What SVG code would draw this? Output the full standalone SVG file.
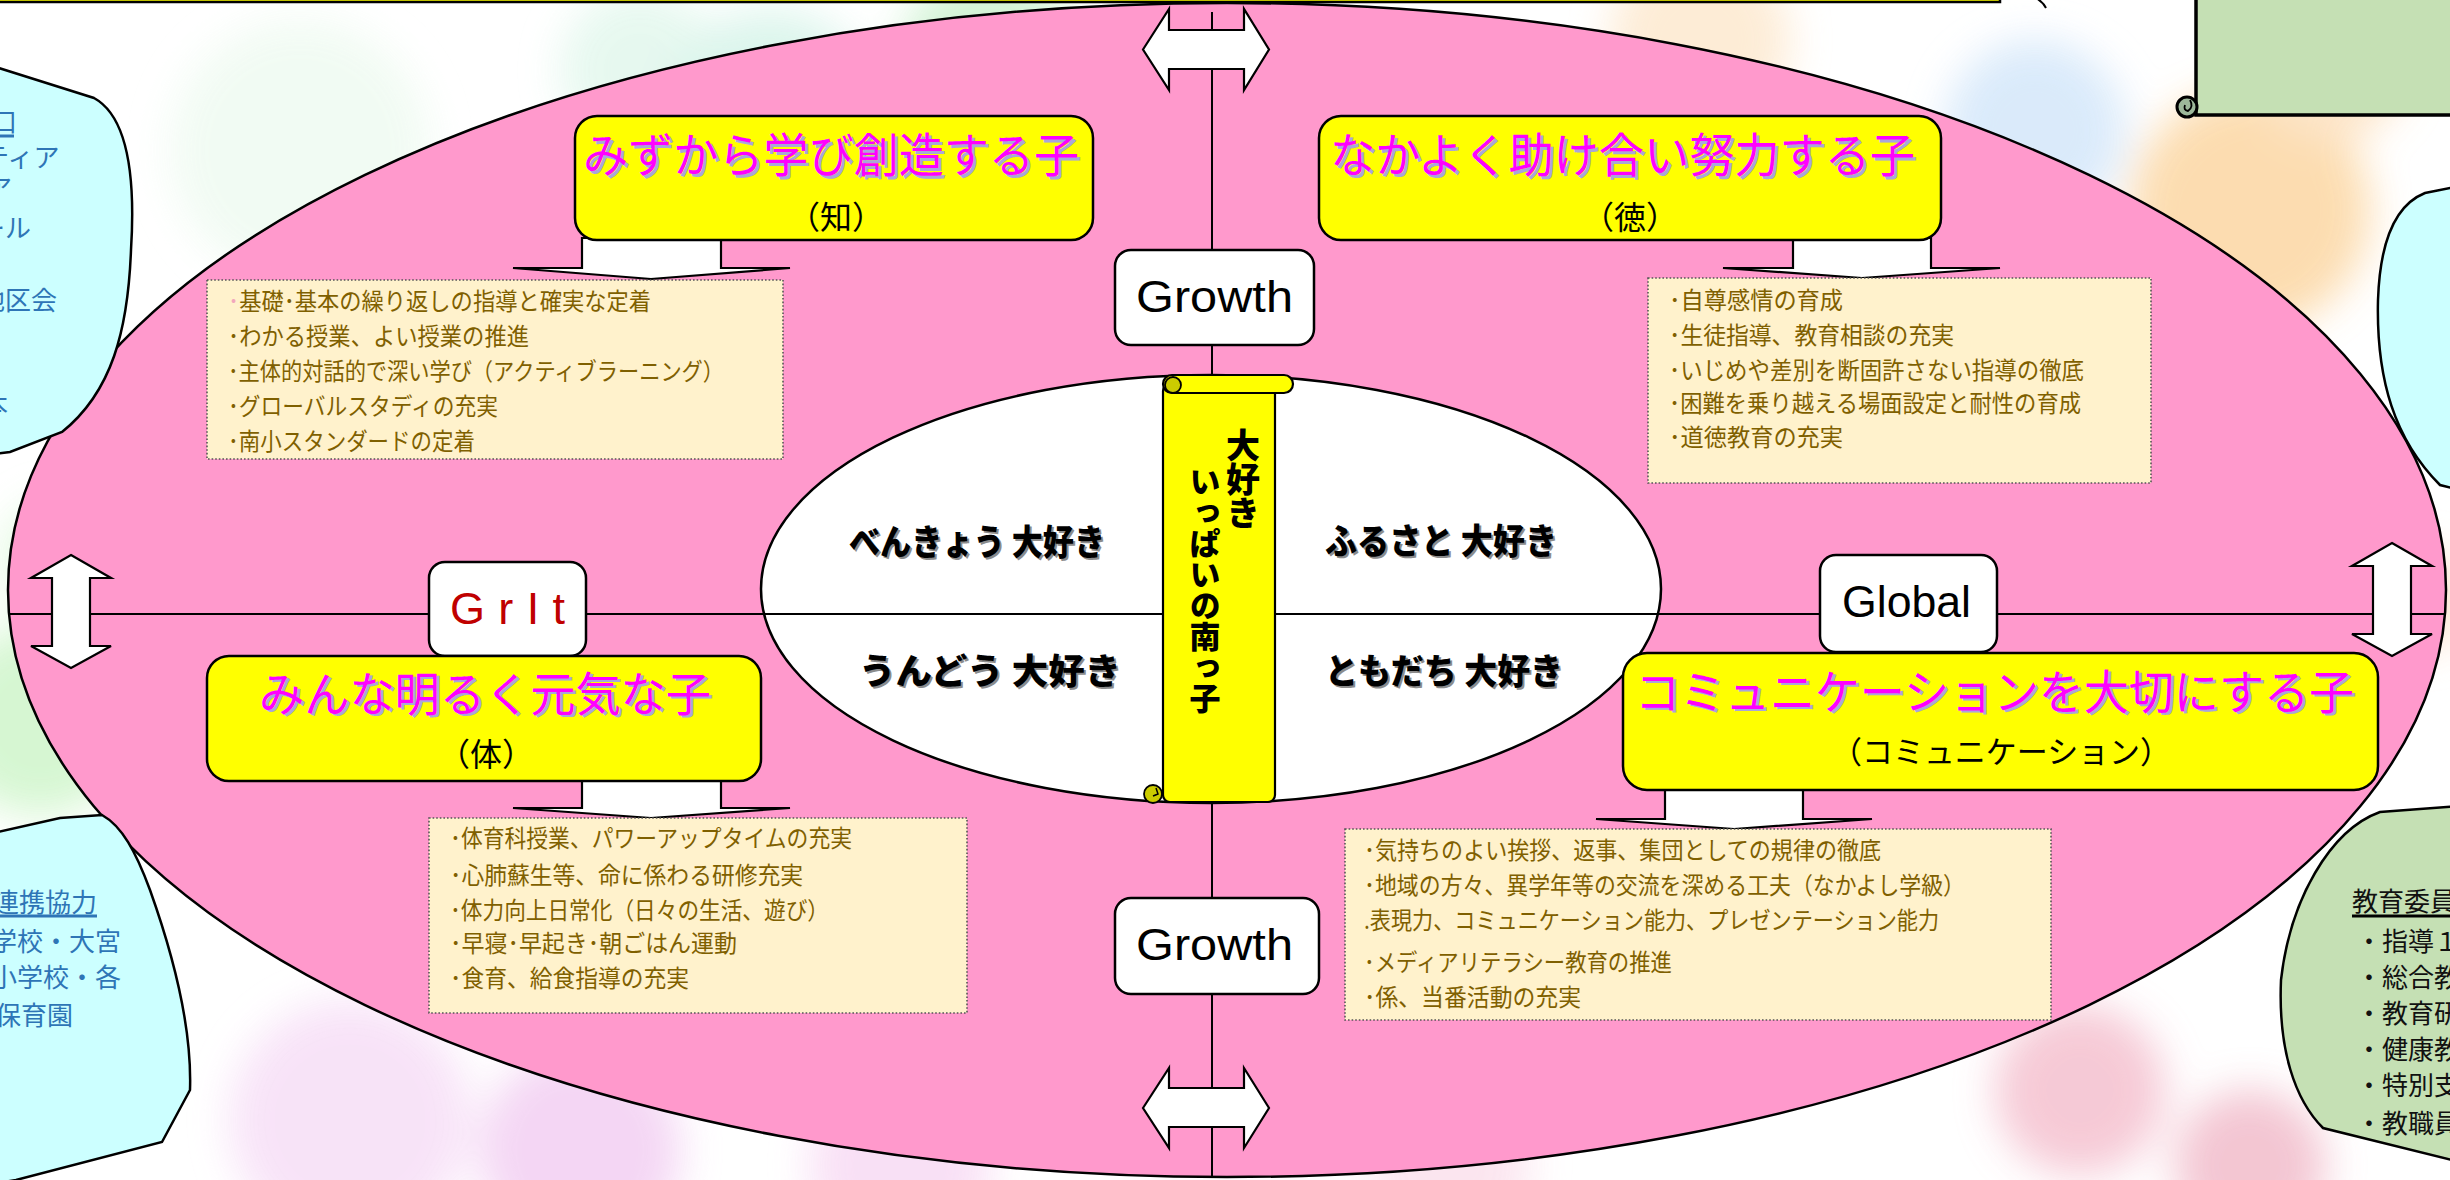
<svg xmlns="http://www.w3.org/2000/svg" width="2450" height="1180" viewBox="0 0 2450 1180">
<defs>
<filter id="blur" x="-60%" y="-60%" width="220%" height="220%"><feGaussianBlur stdDeviation="20"/></filter>
<style>
.jp{font-family:"Noto Sans CJK JP","Noto Sans CJK SC",sans-serif}
.lat{font-family:"Liberation Sans",Arial,sans-serif}
.ybox{fill:#FFFF00;stroke:#000;stroke-width:2.5}
.wbox{fill:#FFFFFF;stroke:#000;stroke-width:2.5}
.beige{fill:#FFF2CC;stroke:#555;stroke-width:1.6;stroke-dasharray:1.6 2}
.btxt{font-size:24px;fill:#7F6000}
.title{font-size:47px;fill:#FF00FF}
.tshadow{font-size:47px;fill:#A9A6DA}
.sub{font-size:32px;fill:#000}
.warrow{fill:#FFFFFF;stroke:#000;stroke-width:2.2;stroke-linejoin:miter}
.axis{stroke:#000;stroke-width:2;fill:none}
.blue{font-size:26px;fill:#2E75B6}
.blk{font-size:26px;fill:#111}
.big{font-size:35px;font-weight:900;fill:#000}
.bigsh{font-size:35px;font-weight:900;fill:#8C8C8C}
.lab{font-size:45px;fill:#000}
.vert{writing-mode:vertical-rl;font-weight:900;fill:#000}
</style>
</defs>

<g id="background">
<rect x="0" y="0" width="2450" height="1180" fill="#FFFFFF"/>
<g filter="url(#blur)" opacity="0.9">
<circle cx="300" cy="150" r="130" fill="#F0FBF2"/>
<circle cx="640" cy="70" r="80" fill="#E4F8EE"/>
<circle cx="770" cy="120" r="110" fill="#D8F4EA"/>
<circle cx="990" cy="60" r="90" fill="#CFF2D2"/>
<circle cx="1700" cy="40" r="90" fill="#FDEAD2"/>
<circle cx="2035" cy="130" r="90" fill="#D6E8FA"/>
<circle cx="2130" cy="320" r="80" fill="#DDEBF8"/>
<circle cx="2250" cy="210" r="120" fill="#FCD9A8"/>
<circle cx="2330" cy="60" r="80" fill="#FDE3C4"/>
<circle cx="40" cy="720" r="95" fill="#D2F6CE"/>
<circle cx="60" cy="560" r="60" fill="#E2FAE0"/>
<circle cx="350" cy="1120" r="120" fill="#F7E0F7"/>
<circle cx="580" cy="1150" r="100" fill="#F3D2F3"/>
<circle cx="900" cy="1165" r="90" fill="#F8DDF4"/>
<circle cx="1450" cy="1165" r="80" fill="#FBE3EE"/>
<circle cx="2080" cy="1090" r="85" fill="#F5C4D2"/>
<circle cx="2250" cy="1165" r="75" fill="#F2C0CE"/>
<circle cx="2420" cy="600" r="50" fill="#FCE4D0"/>
</g>
</g>

<g id="top-bar">
<rect x="-10" y="-100" width="2010" height="102" fill="#FFFF00" stroke="#000" stroke-width="2.5"/>
<path d="M 2036,-2 Q 2043,2 2046,8" fill="none" stroke="#000" stroke-width="2"/>
</g>

<g id="main-ellipse">
<ellipse cx="1227" cy="590" rx="1219" ry="587" fill="#FF99CC" stroke="#000" stroke-width="2.5"/>
<ellipse cx="1211" cy="589" rx="450" ry="214" fill="#FFFFFF" stroke="#000" stroke-width="2.5"/>
</g>

<g id="blob-top-left">
<path d="M -20,62 L 94,98 C 125,115 136,170 131,250 C 128,330 112,392 62,432 L 10,452 L -20,456 Z" fill="#CCFFFF" stroke="#000" stroke-width="2.5"/>
<text class="jp blue" x="-9" y="132" font-size="24">口</text>
<line x1="0" y1="136" x2="14" y2="136" stroke="#2E75B6" stroke-width="3"/>
<text class="jp blue" x="-17" y="167" font-size="24">ティア</text>
<text class="jp blue" x="-14" y="198" font-size="20">ア</text>
<text class="jp blue" x="-21" y="238">ール</text>
<text class="jp blue" x="-21" y="310">地区会</text>
<text class="jp blue" x="-18" y="415">本</text>
</g>

<g id="blob-bottom-left">
<path d="M -20,836 L 60,818 L 102,815 C 122,826 136,852 150,890 C 175,960 192,1030 190,1090 L 162,1142 L 16,1180 L -20,1186 Z" fill="#CCFFFF" stroke="#000" stroke-width="2.5"/>
<text class="jp blue" x="-7" y="912">連携協力</text>
<line x1="0" y1="916" x2="97" y2="916" stroke="#2E75B6" stroke-width="3"/>
<text class="jp blue" x="-9" y="951">学校・大宮</text>
<text class="jp blue" x="-9" y="987">小学校・各</text>
<text class="jp blue" x="-5" y="1025">保育園</text>
</g>

<g id="blob-top-right">
<path d="M 2460,186 L 2425,193 C 2395,205 2380,240 2378,300 C 2376,380 2395,440 2440,485 L 2460,490 Z" fill="#CCFFFF" stroke="#000" stroke-width="2.5"/>
</g>

<g id="blob-bottom-right">
<path d="M 2460,806 L 2380,812 C 2330,830 2290,900 2281,980 C 2278,1050 2295,1100 2323,1128 L 2460,1162 Z" fill="#C5E0B4" stroke="#000" stroke-width="2.5"/>
<text class="jp blk" x="2352" y="911">教育委員</text>
<line x1="2352" y1="916" x2="2450" y2="916" stroke="#000" stroke-width="3"/>
<text class="jp blk" x="2356" y="951">・指導１</text>
<text class="jp blk" x="2356" y="987">・総合教</text>
<text class="jp blk" x="2356" y="1023">・教育研</text>
<text class="jp blk" x="2356" y="1059">・健康教</text>
<text class="jp blk" x="2356" y="1095">・特別支</text>
<text class="jp blk" x="2356" y="1133">・教職員</text>
</g>

<g id="scroll-top-right">
<rect x="2196" y="-10" width="270" height="125" fill="#C5E0B4" stroke="#000" stroke-width="3.5"/>
<circle cx="2187" cy="107" r="10" fill="#9DB89A" stroke="#000" stroke-width="3"/>
<path d="M 2190,100 Q 2194,107 2188,111 Q 2183,110 2185,105" fill="none" stroke="#000" stroke-width="1.8"/>
</g>

<g id="connectors">
<line class="axis" x1="1212" y1="12" x2="1212" y2="1177"/>
<line class="axis" x1="8" y1="614" x2="2446" y2="614"/>
<path class="warrow" d="M 1143,49.5 L 1169,9 L 1169,30 L 1244,30 L 1244,9 L 1269,49.5 L 1244,90 L 1244,69 L 1169,69 L 1169,90 Z"/>
<path class="warrow" d="M 1143,1108 L 1169,1068 L 1169,1088 L 1244,1088 L 1244,1068 L 1269,1108 L 1244,1148 L 1244,1127 L 1169,1127 L 1169,1148 Z"/>
<path class="warrow" d="M 71,555 L 111,578 L 90,578 L 90,646 L 111,646 L 71,668 L 31,646 L 52,646 L 52,578 L 31,578 Z"/>
<path class="warrow" d="M 2392,543 L 2432,566 L 2411,566 L 2411,634 L 2432,634 L 2392,656 L 2352,634 L 2373,634 L 2373,566 L 2352,566 Z"/>
<path class="warrow" d="M 582,238 L 721,238 L 721,268 L 790,268 L 651,279 L 513,268 L 582,268 Z"/>
<path class="warrow" d="M 1793,238 L 1931,238 L 1931,268 L 2000,268 L 1862,278 L 1723,268 L 1793,268 Z"/>
<path class="warrow" d="M 582,779 L 721,779 L 721,808 L 790,808 L 651,818 L 513,808 L 582,808 Z"/>
<path class="warrow" d="M 1665,788 L 1803,788 L 1803,819 L 1872,819 L 1734,829 L 1596,819 L 1665,819 Z"/>
</g>

<g id="center-scroll">
<rect x="1163" y="384" width="112" height="418" rx="7" fill="#FFFF00" stroke="#000" stroke-width="2.2"/>
<rect x="1163" y="375" width="130" height="18" rx="9" fill="#FFFF00" stroke="#000" stroke-width="2.2"/>
<circle cx="1173" cy="385" r="8" fill="#CCCC00" stroke="#000" stroke-width="1.8"/>
<circle cx="1153" cy="794" r="9" fill="#CCCC00" stroke="#000" stroke-width="1.8"/>
<path d="M 1156,788 L 1158,794 L 1153,796" fill="none" stroke="#000" stroke-width="1.5"/>
<text class="jp vert" x="1243" y="428" font-size="34">大好き</text>
<text class="jp vert" x="1205" y="466" font-size="31">いっぱいの南っ子</text>
</g>

<g id="inner-labels">
<text class="jp bigsh" x="851" y="557" textLength="256" lengthAdjust="spacingAndGlyphs">べんきょう 大好き</text>
<text class="jp big" x="849" y="555" textLength="256" lengthAdjust="spacingAndGlyphs">べんきょう 大好き</text>
<text class="jp bigsh" x="1327" y="556" textLength="232" lengthAdjust="spacingAndGlyphs">ふるさと 大好き</text>
<text class="jp big" x="1325" y="554" textLength="232" lengthAdjust="spacingAndGlyphs">ふるさと 大好き</text>
<text class="jp bigsh" x="861" y="686" textLength="262" lengthAdjust="spacingAndGlyphs">うんどう 大好き</text>
<text class="jp big" x="859" y="684" textLength="262" lengthAdjust="spacingAndGlyphs">うんどう 大好き</text>
<text class="jp bigsh" x="1327" y="686" textLength="238" lengthAdjust="spacingAndGlyphs">ともだち 大好き</text>
<text class="jp big" x="1325" y="684" textLength="238" lengthAdjust="spacingAndGlyphs">ともだち 大好き</text>
</g>

<g id="growth-top">
<rect class="wbox" x="1115" y="250" width="199" height="95" rx="16"/>
<text class="lat lab" x="1136" y="312" textLength="157" lengthAdjust="spacingAndGlyphs">Growth</text>
</g>
<g id="growth-bottom">
<rect class="wbox" x="1115" y="898" width="204" height="96" rx="16"/>
<text class="lat lab" x="1136" y="960" textLength="157" lengthAdjust="spacingAndGlyphs">Growth</text>
</g>
<g id="grit">
<rect class="wbox" x="429" y="562" width="157" height="94" rx="16"/>
<text class="lat lab" x="450" y="624" style="fill:#C00000" textLength="115" lengthAdjust="spacing">GrIt</text>
</g>
<g id="global">
<rect class="wbox" x="1820" y="555" width="177" height="97" rx="16"/>
<text class="lat lab" x="1842" y="617" textLength="129" lengthAdjust="spacingAndGlyphs">Global</text>
</g>

<g id="node-chi">
<rect class="ybox" x="575" y="116" width="518" height="124" rx="22"/>
<text class="jp tshadow" x="586" y="175" textLength="496" lengthAdjust="spacingAndGlyphs">みずから学び創造する子</text>
<text class="jp title" x="583" y="172" textLength="496" lengthAdjust="spacingAndGlyphs">みずから学び創造する子</text>
<text class="jp sub" x="836" y="229" text-anchor="middle">（知）</text>
</g>
<g id="list-chi">
<rect class="beige" x="207" y="280" width="576" height="179"/>
<text class="jp btxt" x="228" y="310" textLength="423" lengthAdjust="spacingAndGlyphs"><tspan fill="#F2A7BC">･</tspan>基礎･基本の繰り返しの指導と確実な定着</text>
<text class="jp btxt" x="228" y="345" textLength="301" lengthAdjust="spacingAndGlyphs">･わかる授業、よい授業の推進</text>
<text class="jp btxt" x="228" y="380" textLength="496" lengthAdjust="spacingAndGlyphs">･主体的対話的で深い学び（アクティブラーニング）</text>
<text class="jp btxt" x="228" y="415" textLength="270" lengthAdjust="spacingAndGlyphs">･グローバルスタディの充実</text>
<text class="jp btxt" x="228" y="450" textLength="247" lengthAdjust="spacingAndGlyphs">･南小スタンダードの定着</text>
</g>

<g id="node-toku">
<rect class="ybox" x="1319" y="116" width="622" height="124" rx="22"/>
<text class="jp tshadow" x="1333" y="175" textLength="585" lengthAdjust="spacingAndGlyphs">なかよく助け合い努力する子</text>
<text class="jp title" x="1330" y="172" textLength="585" lengthAdjust="spacingAndGlyphs">なかよく助け合い努力する子</text>
<text class="jp sub" x="1630" y="229" text-anchor="middle">（徳）</text>
</g>
<g id="list-toku">
<rect class="beige" x="1648" y="278" width="503" height="205"/>
<text class="jp btxt" x="1669" y="309" textLength="174" lengthAdjust="spacingAndGlyphs">･自尊感情の育成</text>
<text class="jp btxt" x="1669" y="344" textLength="285" lengthAdjust="spacingAndGlyphs">･生徒指導、教育相談の充実</text>
<text class="jp btxt" x="1669" y="379" textLength="415" lengthAdjust="spacingAndGlyphs">･いじめや差別を断固許さない指導の徹底</text>
<text class="jp btxt" x="1669" y="412" textLength="412" lengthAdjust="spacingAndGlyphs">･困難を乗り越える場面設定と耐性の育成</text>
<text class="jp btxt" x="1669" y="446" textLength="174" lengthAdjust="spacingAndGlyphs">･道徳教育の充実</text>
</g>

<g id="node-tai">
<rect class="ybox" x="207" y="656" width="554" height="125" rx="22"/>
<text class="jp tshadow" x="262" y="713" textLength="452" lengthAdjust="spacingAndGlyphs">みんな明るく元気な子</text>
<text class="jp title" x="259" y="711" textLength="452" lengthAdjust="spacingAndGlyphs">みんな明るく元気な子</text>
<text class="jp sub" x="486" y="766" text-anchor="middle">（体）</text>
</g>
<g id="list-tai">
<rect class="beige" x="429" y="818" width="538" height="195"/>
<text class="jp btxt" x="450" y="847" textLength="402" lengthAdjust="spacingAndGlyphs">･体育科授業、パワーアップタイムの充実</text>
<text class="jp btxt" x="450" y="884" textLength="353" lengthAdjust="spacingAndGlyphs">･心肺蘇生等、命に係わる研修充実</text>
<text class="jp btxt" x="450" y="919" textLength="379" lengthAdjust="spacingAndGlyphs">･体力向上日常化（日々の生活、遊び）</text>
<text class="jp btxt" x="450" y="952" textLength="287" lengthAdjust="spacingAndGlyphs">･早寝･早起き･朝ごはん運動</text>
<text class="jp btxt" x="450" y="987" textLength="239" lengthAdjust="spacingAndGlyphs">･食育、給食指導の充実</text>
</g>

<g id="node-comm">
<rect class="ybox" x="1623" y="653" width="755" height="137" rx="24"/>
<text class="jp tshadow" x="1638" y="711" textLength="719" lengthAdjust="spacingAndGlyphs">コミュニケーションを大切にする子</text>
<text class="jp title" x="1635" y="709" textLength="719" lengthAdjust="spacingAndGlyphs">コミュニケーションを大切にする子</text>
<text class="jp" x="2001" y="763" font-size="31" fill="#000" text-anchor="middle" textLength="340" lengthAdjust="spacingAndGlyphs">（コミュニケーション）</text>
</g>
<g id="list-comm">
<rect class="beige" x="1345" y="829" width="706" height="191"/>
<text class="jp btxt" x="1364" y="859" textLength="517" lengthAdjust="spacingAndGlyphs">･気持ちのよい挨拶、返事、集団としての規律の徹底</text>
<text class="jp btxt" x="1364" y="894" textLength="601" lengthAdjust="spacingAndGlyphs">･地域の方々、異学年等の交流を深める工夫（なかよし学級）</text>
<text class="jp btxt" x="1364" y="929" textLength="575" lengthAdjust="spacingAndGlyphs">.表現力、コミュニケーション能力、プレゼンテーション能力</text>
<text class="jp btxt" x="1364" y="971" textLength="308" lengthAdjust="spacingAndGlyphs">･メディアリテラシー教育の推進</text>
<text class="jp btxt" x="1364" y="1006" textLength="217" lengthAdjust="spacingAndGlyphs">･係、当番活動の充実</text>
</g>
</svg>
